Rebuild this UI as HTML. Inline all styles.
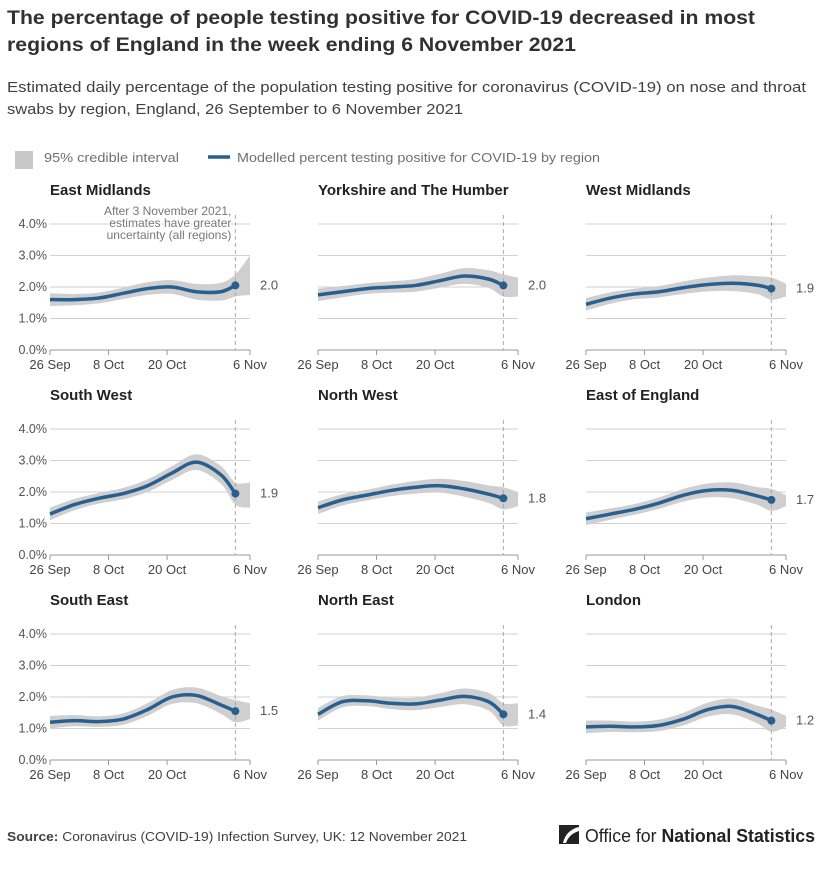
<!DOCTYPE html>
<html><head><meta charset="utf-8"><style>
body{margin:0;background:#fff;width:820px;height:874px;overflow:hidden;font-family:"Liberation Sans",sans-serif}
</style></head><body>
<svg id="c" width="820" height="874" style="position:absolute;left:0;top:0">
<text x="7" y="24" font-size="19" font-weight="bold" fill="#323132" textLength="748" lengthAdjust="spacingAndGlyphs">The percentage of people testing positive for COVID-19 decreased in most</text>
<text x="7" y="51" font-size="19" font-weight="bold" fill="#323132" textLength="569" lengthAdjust="spacingAndGlyphs">regions of England in the week ending 6 November 2021</text>
<text x="7" y="92" font-size="15" fill="#414042" textLength="799" lengthAdjust="spacingAndGlyphs">Estimated daily percentage of the population testing positive for coronavirus (COVID-19) on nose and throat</text>
<text x="7" y="114" font-size="15" fill="#414042" textLength="456" lengthAdjust="spacingAndGlyphs">swabs by region, England, 26 September to 6 November 2021</text>
<rect x="15" y="151" width="18" height="18" fill="#c8c8c8"/>
<text x="44" y="162" font-size="12.5" fill="#707070" textLength="135" lengthAdjust="spacingAndGlyphs">95% credible interval</text>
<line x1="208" y1="157" x2="230" y2="157" stroke="#206095" stroke-width="3.5"/>
<text x="237" y="162" font-size="12.5" fill="#707070" textLength="363" lengthAdjust="spacingAndGlyphs">Modelled percent testing positive for COVID-19 by region</text>
<text x="7" y="841" font-size="13" fill="#414042" textLength="460" lengthAdjust="spacingAndGlyphs"><tspan font-weight="bold">Source:</tspan> Coronavirus (COVID-19) Infection Survey, UK: 12 November 2021</text>
<g>
<rect x="559" y="825" width="20" height="19" fill="#222"/>
<path d="M563 843 Q566 830 579 827 L579 831 Q569 834 566 843Z" fill="#fff"/>
<text x="585" y="842" font-size="18" fill="#222" textLength="230" lengthAdjust="spacingAndGlyphs">Office for <tspan font-weight="bold">National Statistics</tspan></text>
</g>
<g id="panels"></g>
</svg>
<script>
const regions=["East Midlands","Yorkshire and The Humber","West Midlands","South West","North West","East of England","South East","North East","London"];
const days=[0,5,10,15,20,25,30,35,38];
const s0=[1.6,1.6,1.65,1.8,1.95,2.0,1.85,1.85,2.05];
const s1=[1.75,1.85,1.95,2.0,2.05,2.2,2.35,2.25,2.05];
const s2=[1.45,1.65,1.78,1.85,1.98,2.08,2.12,2.06,1.95];
const s3=[1.3,1.6,1.8,1.95,2.2,2.6,2.95,2.55,1.95];
const s4=[1.5,1.75,1.9,2.05,2.15,2.2,2.1,1.93,1.8];
const s5=[1.15,1.3,1.45,1.65,1.9,2.05,2.05,1.88,1.75];
const s6=[1.2,1.25,1.22,1.3,1.6,2.0,2.05,1.75,1.55];
const s7=[1.45,1.85,1.88,1.8,1.78,1.9,2.02,1.85,1.45];
const s8=[1.05,1.07,1.05,1.1,1.3,1.6,1.7,1.45,1.25];
const series=[s0,s1,s2,s3,s4,s5,s6,s7,s8];
const halfWidth=[0.2,0.18,0.17,0.18,0.2,0.22,0.25,0.28,0.35];
const endUpper=[3.0,2.3,2.1,2.3,2.0,1.9,1.8,1.8,1.4];
const endLower=[1.75,1.7,1.7,1.5,1.55,1.55,1.3,1.1,1.05];
const endLabels=["2.0","2.0","1.9","1.9","1.8","1.7","1.5","1.4","1.2"];
const yTicks=[0,1,2,3,4];
const xTickDays=[0,12,24,41];
const xTickLabels=["26 Sep","8 Oct","20 Oct","6 Nov"];
const NS="http://www.w3.org/2000/svg";
const G=document.getElementById('panels');
function mk(t,a,p){const e=document.createElementNS(NS,t);for(const k in a)e.setAttribute(k,a[k]);(p||G).appendChild(e);return e;}
function smooth(pts){let d="M"+pts[0][0]+" "+pts[0][1];for(let i=0;i<pts.length-1;i++){const p0=pts[Math.max(0,i-1)],p1=pts[i],p2=pts[i+1],p3=pts[Math.min(pts.length-1,i+2)];d+=" C"+(p1[0]+(p2[0]-p0[0])/6)+" "+(p1[1]+(p2[1]-p0[1])/6)+" "+(p2[0]-(p3[0]-p1[0])/6)+" "+(p2[1]-(p3[1]-p1[1])/6)+" "+p2[0]+" "+p2[1];}return d;}
regions.forEach((name,i)=>{
  const col=i%3,row=Math.floor(i/3);
  const x0=50+col*268,y0=350+row*205;
  const X=d=>x0+d*200/41, Y=v=>y0-v*31.5;
  const g=mk('g',{});
  
  
  const t=mk('text',{x:x0,y:y0-155,'font-size':15,'font-weight':'bold',fill:'#222'},g);t.textContent=name;
  
  yTicks.forEach(v=>{
    if(v>0){const l=mk('line',{x1:x0,x2:x0+200,y1:Y(v),y2:Y(v),stroke:'#d0d0d0'},g);}
    if(col===0){const tl=mk('text',{x:x0-3,y:Y(v)+4,'font-size':12.5,fill:'#555','text-anchor':'end'},g);tl.textContent=v.toFixed(1)+"%";}
  });
  const ax=mk('line',{x1:x0,x2:x0+200,y1:y0,y2:y0,stroke:'#999'},g);
  xTickDays.forEach((d,k)=>{
    mk('line',{x1:X(d),x2:X(d),y1:y0,y2:y0+5,stroke:'#999'},g);
    const tl=mk('text',{x:X(d),y:y0+19,'font-size':13,fill:'#444','text-anchor':'middle'},g);tl.textContent=xTickLabels[k];
    
  });
  const s=series[i];
  const up=days.map((d,k)=>[X(d),Y(s[k]+halfWidth[k])]);up.push([X(41),Y(endUpper[i])]);
  const lo=days.map((d,k)=>[X(d),Y(s[k]-halfWidth[k])]);lo.push([X(41),Y(endLower[i])]);
  const lr=lo.slice().reverse();
  const band=mk('path',{d:smooth(up)+" L"+lr[0][0]+" "+lr[0][1]+smooth(lr).replace(/^M[^C]*/,' ')+"Z",fill:'#cfcfcf'},g);
  
  const dl=mk('line',{x1:X(38),x2:X(38),y1:y0-135,y2:y0,stroke:'#aaa','stroke-dasharray':'4,3'},g);
  
  const ln=mk('path',{d:smooth(days.map((d,k)=>[X(d),Y(s[k])])),fill:'none',stroke:'#27608f','stroke-width':3.5},g);
  
  const dot=mk('circle',{cx:X(38),cy:Y(s[8]),r:4,fill:'#27608f'},g);
  
  const el=mk('text',{x:x0+210,y:Y(s[8])+4,'font-size':13,fill:'#555'},g);el.textContent=endLabels[i];
  
  if(i===0){
    ["After 3 November 2021,","estimates have greater","uncertainty (all regions)"].forEach((tx,k)=>{
      const a=mk('text',{x:X(38)-4,y:y0-135+k*12,'font-size':12,fill:'#777','text-anchor':'end',stroke:'#fff','stroke-width':3,'paint-order':'stroke'},g);a.textContent=tx;
      
    });
  }
});
</script>
</body></html>
